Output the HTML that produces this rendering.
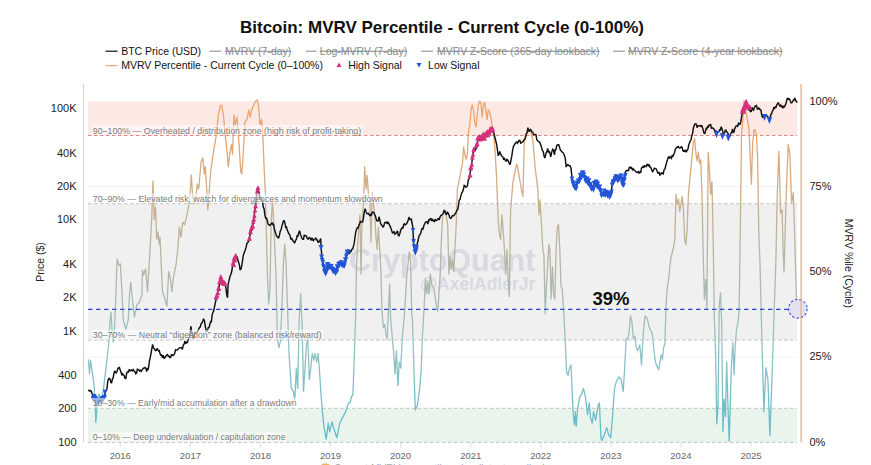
<!DOCTYPE html>
<html><head><meta charset="utf-8"><title>Bitcoin: MVRV Percentile</title>
<style>html,body{margin:0;padding:0;background:#fff;}body{width:871px;height:465px;overflow:hidden;position:relative;font-family:"Liberation Sans", sans-serif;}</style>
</head><body>
<svg width="871" height="465" viewBox="0 0 871 465" style="position:absolute;left:0;top:0">
<defs>
<linearGradient id="pg" gradientUnits="userSpaceOnUse" x1="0" y1="101.4" x2="0" y2="442.4">
<stop offset="0" stop-color="#eda46a"/>
<stop offset="0.12" stop-color="#e6a571"/>
<stop offset="0.30" stop-color="#c9b08e"/>
<stop offset="0.50" stop-color="#b2b6a8"/>
<stop offset="0.70" stop-color="#98c2c3"/>
<stop offset="1" stop-color="#5bbccc"/>
</linearGradient>
</defs>
<rect x="0" y="0" width="871" height="465" fill="#fff"/>
<rect x="88" y="101.4" width="709" height="34.1" fill="#fde9e4"/>
<rect x="88" y="203.7" width="709" height="136.4" fill="#f0f0f0"/>
<rect x="88" y="408.3" width="709" height="34.1" fill="#e9f4ec"/>

<line x1="120.3" y1="442.5" x2="120.3" y2="447.5" stroke="#d6d6d6" stroke-width="0.8"/>
<line x1="190.4" y1="442.5" x2="190.4" y2="447.5" stroke="#d6d6d6" stroke-width="0.8"/>
<line x1="260.5" y1="442.5" x2="260.5" y2="447.5" stroke="#d6d6d6" stroke-width="0.8"/>
<line x1="330.5" y1="442.5" x2="330.5" y2="447.5" stroke="#d6d6d6" stroke-width="0.8"/>
<line x1="400.6" y1="442.5" x2="400.6" y2="447.5" stroke="#d6d6d6" stroke-width="0.8"/>
<line x1="470.7" y1="442.5" x2="470.7" y2="447.5" stroke="#d6d6d6" stroke-width="0.8"/>
<line x1="540.8" y1="442.5" x2="540.8" y2="447.5" stroke="#d6d6d6" stroke-width="0.8"/>
<line x1="610.9" y1="442.5" x2="610.9" y2="447.5" stroke="#d6d6d6" stroke-width="0.8"/>
<line x1="680.9" y1="442.5" x2="680.9" y2="447.5" stroke="#d6d6d6" stroke-width="0.8"/>
<line x1="751.0" y1="442.5" x2="751.0" y2="447.5" stroke="#d6d6d6" stroke-width="0.8"/>
<line x1="88" y1="357.1" x2="797" y2="357.1" stroke="#ebebeb" stroke-width="0.6"/>
<line x1="88" y1="271.9" x2="797" y2="271.9" stroke="#ebebeb" stroke-width="0.6"/>
<line x1="88" y1="186.6" x2="797" y2="186.6" stroke="#ebebeb" stroke-width="0.6"/>
<line x1="88" y1="135.5" x2="797" y2="135.5" stroke="#dd8a8a" stroke-width="1" stroke-dasharray="3.5,2.5"/>
<line x1="88" y1="203.7" x2="797" y2="203.7" stroke="#c4c4c4" stroke-width="1" stroke-dasharray="3.5,2.5"/>
<line x1="88" y1="340.1" x2="797" y2="340.1" stroke="#c4c4c4" stroke-width="1" stroke-dasharray="3.5,2.5"/>
<line x1="88" y1="408.3" x2="797" y2="408.3" stroke="#c4c4c4" stroke-width="1" stroke-dasharray="3.5,2.5"/>
<line x1="88" y1="442.4" x2="797" y2="442.4" stroke="#c4c4c4" stroke-width="1" stroke-dasharray="3.5,2.5"/>
<text x="349" y="271" font-family='"Liberation Sans", sans-serif' font-size="30.5" font-weight="bold" fill="#d6d6df" fill-opacity="0.9">CryptoQuant</text>
<text x="420" y="290" font-family='"Liberation Sans", sans-serif' font-size="17.5" font-weight="bold" fill="#d6d6df" fill-opacity="0.9">@AxelAdlerJr</text>
<path d="M88.4,359.2 L89.5,373.9 L90.6,360.3 L92.9,376.1 L94.0,385.2 L95.2,405.5 L95.8,422.4 L96.7,412.3 L97.4,398.7 L99.0,394.2 L100.8,399.9 L103.1,392.0 L105.3,373.9 L107.6,353.6 L108.5,346.7 L109.7,324.5 L111.0,312.1 L112.2,334.4 L113.4,341.8 L114.7,324.5 L115.9,294.8 L117.1,259.0 L118.9,265.2 L120.4,264.0 L122.1,294.8 L123.3,319.6 L125.8,329.4 L128.3,319.6 L129.5,294.8 L130.7,282.5 L132.5,299.8 L134.4,317.1 L136.9,304.7 L139.4,302.2 L141.9,294.8 L142.4,270.1 L143.5,275.0 L145.6,268.9 L147.5,292.0 L149.8,254.0 L151.7,219.4 L153.0,181.1 L154.2,219.4 L155.5,207.1 L156.7,239.2 L157.9,231.8 L159.2,244.2 L160.0,237.1 L161.2,264.3 L162.5,291.5 L164.9,298.9 L166.9,306.3 L168.7,271.7 L170.4,279.1 L171.9,291.5 L173.6,276.6 L176.1,264.3 L177.8,249.4 L179.3,227.2 L181.0,237.1 L182.7,222.2 L184.7,224.7 L186.7,216.1 L188.4,207.4 L189.7,200.0 L191.3,175.0 L192.5,193.9 L193.7,203.8 L194.6,202.5 L196.2,193.9 L197.4,184.0 L198.7,188.9 L201.1,161.7 L202.9,158.0 L204.3,174.1 L205.3,166.7 L206.8,191.4 L207.8,210.0 L208.5,203.8 L209.8,181.5 L211.0,169.2 L213.5,151.9 L216.0,137.0 L218.4,114.8 L220.2,106.1 L221.6,104.9 L222.9,112.3 L223.9,119.7 L225.1,134.6 L226.6,146.9 L228.3,166.7 L230.0,151.9 L231.5,144.4 L232.5,154.3 L234.0,114.8 L235.2,124.7 L237.0,117.2 L238.2,132.1 L239.4,149.4 L240.7,171.6 L241.9,174.1 L243.2,154.3 L244.9,122.2 L246.9,119.7 L248.8,109.8 L250.1,117.2 L251.8,109.8 L253.8,104.9 L255.5,101.2 L257.2,99.9 L258.7,107.4 L260.0,124.7 L261.7,119.7 L262.9,137.0 L264.2,169.2 L265.4,193.9 L266.2,224.7 L267.4,274.2 L268.7,303.8 L270.0,290.0 L271.1,224.7 L272.4,200.0 L273.6,219.8 L276.1,279.1 L277.4,339.0 L278.9,347.7 L280.3,341.9 L281.8,310.0 L283.5,261.8 L284.7,244.5 L286.0,261.8 L287.6,310.0 L289.0,353.5 L291.3,388.4 L293.4,391.3 L294.8,400.0 L296.3,368.1 L297.7,388.4 L299.2,318.7 L300.7,293.9 L302.1,324.5 L303.5,391.3 L305.0,368.1 L306.4,344.8 L307.9,339.0 L309.3,379.7 L310.8,368.0 L312.2,353.5 L313.7,360.0 L315.2,353.5 L316.6,362.0 L318.1,353.5 L319.5,371.0 L321.0,394.2 L322.4,411.6 L323.9,426.1 L326.2,439.2 L328.2,423.2 L329.7,431.9 L332.0,421.8 L334.0,429.0 L336.9,437.7 L339.8,423.2 L342.7,417.4 L345.6,411.6 L348.5,402.9 L350.0,402.9 L351.4,397.1 L352.9,394.2 L354.4,353.5 L355.8,310.0 L356.4,268.0 L357.4,249.4 L358.7,229.7 L359.9,214.8 L361.1,274.2 L361.9,224.7 L363.6,200.0 L364.7,166.7 L366.0,188.9 L367.2,175.3 L368.4,193.9 L369.8,200.0 L371.0,242.0 L372.1,192.7 L374.7,214.8 L376.0,237.1 L377.2,249.4 L378.4,227.2 L380.9,269.2 L381.9,310.0 L383.4,327.4 L384.8,324.5 L386.3,336.1 L387.2,339.0 L388.3,315.0 L389.6,284.1 L390.6,318.7 L393.5,350.6 L395.0,373.9 L396.4,350.6 L397.9,385.5 L399.3,362.2 L400.8,368.1 L402.2,339.0 L404.4,315.0 L406.9,274.2 L409.3,251.9 L410.6,261.8 L411.8,315.0 L412.4,318.7 L413.9,368.1 L415.3,410.1 L417.3,405.8 L419.7,388.4 L421.1,371.0 L422.6,333.2 L424.0,310.0 L425.4,279.1 L426.6,293.9 L427.9,281.6 L429.1,293.9 L430.3,274.2 L431.6,284.1 L434.1,289.0 L436.5,306.3 L437.8,311.2 L440.2,274.2 L441.5,237.1 L442.7,214.8 L445.2,209.9 L447.7,224.7 L448.9,274.2 L450.0,256.9 L451.2,269.2 L452.5,259.3 L453.7,271.7 L454.9,249.4 L456.2,224.7 L457.4,188.9 L459.9,176.6 L462.4,164.2 L463.6,146.9 L464.8,154.3 L466.1,159.3 L467.3,154.3 L468.5,132.1 L469.8,124.7 L471.0,109.8 L472.2,104.9 L473.5,109.8 L474.7,122.2 L476.0,127.1 L477.2,114.8 L478.4,104.9 L479.7,101.2 L480.9,102.4 L482.1,117.2 L483.4,104.9 L484.6,102.4 L485.8,109.8 L487.1,119.7 L488.3,109.8 L489.6,112.3 L490.8,117.2 L492.0,124.7 L493.3,132.1 L495.0,149.4 L496.5,176.6 L498.2,219.8 L499.4,234.6 L500.7,239.6 L501.9,214.8 L503.2,229.7 L504.4,249.4 L505.6,274.2 L506.9,249.4 L508.1,279.1 L509.3,296.4 L510.6,210.0 L513.0,181.5 L515.5,169.2 L516.7,164.2 L518.0,169.2 L519.2,176.6 L520.5,184.0 L521.7,191.4 L522.9,196.4 L524.2,144.4 L525.4,134.6 L527.9,132.1 L530.3,129.6 L532.8,139.5 L535.3,169.2 L537.8,188.9 L539.0,214.8 L540.0,200.0 L541.5,224.7 L543.0,251.9 L543.9,254.4 L545.2,313.7 L546.4,286.5 L548.9,244.5 L549.9,249.4 L551.1,298.9 L552.4,266.7 L553.6,293.9 L554.8,298.9 L556.1,249.4 L557.3,227.2 L558.5,224.7 L559.8,249.4 L561.0,286.5 L562.2,289.0 L563.5,308.8 L565.2,339.0 L566.6,372.4 L568.1,375.3 L569.5,368.1 L571.0,365.2 L571.8,382.6 L573.0,411.6 L574.4,424.7 L575.3,411.6 L576.2,426.1 L577.6,408.7 L579.7,397.1 L581.7,394.2 L583.4,388.4 L585.5,397.1 L587.5,414.5 L589.3,402.9 L590.4,417.4 L592.2,423.2 L593.6,411.6 L595.6,420.3 L598.0,405.8 L599.4,402.9 L600.9,437.7 L602.0,440.6 L604.3,434.8 L606.7,427.6 L608.7,434.8 L610.7,437.7 L612.5,417.4 L614.5,388.4 L616.5,381.1 L618.9,376.8 L621.2,379.7 L623.2,391.3 L624.7,368.1 L626.1,339.0 L627.6,339.0 L629.0,333.2 L630.5,315.8 L631.9,321.6 L633.4,339.0 L634.8,336.1 L636.3,347.7 L637.7,350.6 L639.8,344.8 L641.5,365.2 L643.5,330.3 L645.0,315.8 L647.3,318.7 L649.3,327.4 L652.2,333.2 L655.0,359.7 L656.2,364.6 L658.7,369.6 L659.9,362.1 L661.2,354.7 L662.4,359.7 L663.7,347.3 L664.9,343.6 L666.1,304.2 L667.4,286.9 L668.6,279.4 L669.8,267.1 L671.1,257.2 L672.3,252.2 L673.5,247.3 L674.8,239.9 L676.0,194.2 L677.2,204.1 L678.5,199.1 L679.7,211.5 L681.0,204.1 L682.2,196.6 L683.4,209.0 L684.7,239.9 L685.9,244.8 L687.1,230.0 L688.4,194.2 L689.6,181.8 L690.8,169.4 L692.1,157.1 L693.3,142.2 L694.6,138.5 L695.8,152.1 L697.0,160.8 L698.3,152.1 L699.5,163.3 L700.7,159.6 L702.0,194.2 L703.2,254.7 L704.4,299.2 L705.7,279.4 L706.9,309.1 L708.2,152.1 L709.4,169.4 L710.6,194.2 L711.9,181.8 L713.1,235.0 L714.3,316.5 L715.6,354.7 L716.8,423.9 L718.0,406.6 L719.3,304.2 L720.5,293.0 L721.7,323.9 L723.0,431.4 L724.2,399.2 L725.5,416.5 L726.7,362.1 L727.9,404.2 L729.2,441.2 L730.4,399.2 L731.6,362.1 L732.9,342.4 L734.1,374.5 L735.3,345.0 L736.6,328.9 L737.8,323.9 L739.1,311.6 L740.3,230.0 L741.5,134.8 L742.8,120.0 L744.0,100.6 L746.9,117.6 L748.9,127.4 L750.2,157.1 L751.4,184.3 L752.6,144.7 L753.9,130.0 L755.1,129.9 L756.4,134.8 L757.6,157.1 L758.8,233.8 L759.9,260.0 L761.9,339.7 L763.9,411.5 L765.9,367.7 L767.9,379.6 L769.9,435.4 L771.9,379.6 L773.9,319.8 L775.9,260.0 L777.2,196.0 L778.9,151.3 L780.6,213.2 L782.0,209.8 L783.3,254.5 L784.0,272.0 L786.4,189.1 L788.2,144.4 L789.9,154.7 L791.6,202.9 L793.3,192.6 L795.0,247.6 L796.6,303.9" fill="none" stroke="url(#pg)" stroke-width="1.3" stroke-linejoin="round"/>
<path d="M88.1,390.3 L89.0,390.5 L89.8,391.1 L90.7,390.5 L91.5,391.9 L92.3,394.2 L93.2,397.0 L94.0,396.5 L94.8,396.8 L95.7,399.6 L96.5,400.1 L97.3,401.5 L98.2,401.3 L99.0,399.5 L99.8,400.5 L100.5,400.4 L101.3,399.7 L102.0,399.1 L102.8,397.2 L103.5,395.5 L104.3,396.9 L105.2,392.6 L106.0,391.2 L106.9,389.1 L107.8,381.1 L108.7,378.6 L109.4,378.3 L110.1,379.2 L110.8,382.5 L111.6,382.8 L112.3,379.3 L113.1,378.0 L113.9,373.7 L114.7,371.0 L115.4,371.9 L116.2,373.2 L117.0,371.5 L117.7,369.1 L118.5,367.8 L119.4,367.5 L120.2,369.9 L121.1,372.4 L121.9,375.3 L122.7,373.9 L123.4,374.8 L124.2,375.7 L125.0,378.4 L125.8,378.5 L126.7,373.1 L127.5,371.8 L128.4,372.1 L129.2,369.4 L130.1,370.9 L130.9,370.1 L131.7,369.9 L132.5,371.3 L133.3,369.7 L134.2,370.9 L135.0,371.7 L135.8,373.7 L136.6,373.0 L137.4,369.2 L138.1,369.6 L138.9,370.1 L139.7,371.0 L140.4,369.8 L141.2,371.4 L142.0,370.2 L142.8,368.9 L143.5,368.2 L144.3,368.0 L145.1,367.4 L145.9,368.3 L146.6,371.6 L147.4,368.7 L148.2,369.3 L148.8,365.8 L149.5,360.7 L150.3,357.2 L151.1,353.0 L151.8,349.0 L152.6,344.5 L153.6,348.1 L154.6,349.1 L155.4,350.6 L156.2,350.3 L156.9,348.9 L157.7,349.1 L158.5,350.9 L159.3,350.6 L160.1,353.9 L160.8,355.2 L161.6,354.9 L162.4,357.8 L163.2,355.2 L164.1,358.3 L164.9,357.9 L165.8,356.2 L166.7,355.0 L167.5,354.6 L168.3,356.4 L169.1,356.1 L169.9,357.5 L170.8,357.2 L171.6,354.2 L172.4,355.3 L173.2,355.4 L174.0,354.8 L174.8,353.1 L175.6,349.8 L176.3,350.1 L177.1,350.1 L177.9,349.4 L178.7,348.6 L179.4,347.8 L180.2,347.6 L181.0,347.5 L181.8,348.7 L182.5,348.9 L183.3,344.9 L184.1,344.4 L184.8,341.1 L185.6,343.7 L186.4,341.9 L187.2,343.1 L187.9,340.9 L188.7,338.4 L189.5,337.2 L190.2,333.6 L190.8,326.2 L191.6,331.7 L192.5,333.6 L193.3,338.7 L194.2,335.9 L195.0,332.9 L195.9,332.7 L196.8,332.5 L197.6,331.4 L198.5,329.6 L199.3,327.7 L200.2,327.0 L201.1,323.7 L201.9,323.1 L202.8,320.9 L203.6,318.7 L204.5,321.1 L205.3,326.3 L206.2,331.1 L206.9,331.0 L207.7,329.6 L208.4,327.4 L209.2,327.1 L209.9,324.2 L210.7,321.6 L211.4,321.8 L212.2,314.6 L213.0,312.2 L213.8,310.7 L214.6,306.1 L215.3,303.1 L216.0,299.8 L216.7,294.7 L217.5,293.7 L218.3,289.1 L219.0,287.7 L219.8,281.7 L220.6,278.8 L221.3,282.7 L222.1,282.1 L222.8,282.2 L223.6,285.2 L224.3,282.4 L225.1,284.4 L225.9,287.6 L226.7,294.6 L227.5,297.8 L228.1,284.7 L229.0,280.9 L229.9,276.8 L230.8,274.5 L231.7,271.5 L232.5,266.4 L233.4,264.2 L234.2,260.1 L234.9,259.4 L235.7,259.0 L236.4,257.9 L237.2,256.4 L237.9,260.5 L238.6,262.2 L239.4,264.8 L240.1,269.6 L240.8,269.4 L241.6,266.6 L242.4,261.7 L243.2,255.8 L243.9,253.6 L244.6,251.9 L245.4,249.4 L246.1,247.4 L246.8,243.8 L247.6,242.4 L248.3,242.1 L249.1,239.1 L249.8,236.1 L250.6,232.0 L251.4,231.0 L252.2,227.6 L252.9,224.4 L253.7,221.5 L254.4,214.1 L255.2,207.3 L256.0,201.5 L256.9,192.7 L257.7,187.5 L258.4,190.1 L259.1,193.0 L259.8,197.6 L260.7,198.8 L261.6,199.6 L262.5,200.9 L263.3,207.3 L264.1,208.7 L264.9,215.4 L265.7,218.3 L266.6,218.3 L267.4,221.0 L268.2,224.3 L269.1,224.9 L269.9,225.5 L270.6,224.2 L271.4,224.0 L272.1,222.5 L272.9,224.5 L273.6,224.3 L274.4,229.0 L275.2,231.7 L276.1,234.7 L276.9,236.5 L277.7,237.1 L278.5,238.4 L279.3,235.8 L280.2,231.3 L281.0,229.8 L281.8,226.6 L282.7,223.4 L283.5,220.7 L284.2,220.7 L285.0,223.6 L285.7,227.5 L286.5,227.1 L287.2,229.9 L287.9,231.5 L288.7,233.5 L289.4,234.2 L290.2,236.2 L290.9,239.5 L291.6,238.0 L292.4,239.5 L293.1,241.3 L293.9,241.5 L294.6,243.2 L295.4,240.7 L296.3,239.4 L297.1,235.8 L297.9,236.0 L298.8,232.6 L299.6,230.7 L300.4,234.2 L301.2,236.6 L302.0,238.4 L302.7,239.2 L303.5,239.3 L304.2,234.9 L305.0,235.8 L305.7,235.5 L306.5,236.1 L307.4,238.7 L308.2,239.1 L308.9,237.8 L309.7,237.6 L310.4,238.9 L311.2,240.4 L311.9,237.7 L312.7,240.0 L313.5,240.6 L314.3,238.9 L315.1,238.8 L315.9,238.2 L316.6,240.0 L317.4,240.0 L318.2,242.9 L319.0,241.6 L319.8,241.0 L320.6,238.4 L321.8,256.8 L322.5,259.7 L323.3,263.8 L324.0,267.4 L324.8,271.5 L325.5,271.4 L326.3,269.0 L327.2,265.9 L328.0,265.4 L328.8,265.6 L329.6,267.1 L330.4,267.0 L331.3,268.2 L332.1,269.4 L332.9,269.8 L333.6,270.1 L334.4,269.1 L335.1,271.0 L335.9,272.4 L336.6,270.7 L337.4,267.3 L338.3,265.2 L339.1,264.0 L339.9,263.7 L340.7,261.3 L341.4,260.9 L342.2,263.4 L343.0,262.9 L343.8,263.0 L344.5,263.3 L345.3,263.0 L346.1,255.8 L347.0,254.1 L347.8,252.4 L348.6,252.5 L349.4,253.8 L350.2,251.2 L351.1,251.4 L351.9,249.3 L352.7,248.9 L353.4,246.4 L354.2,243.4 L354.9,238.0 L355.7,232.4 L356.4,230.0 L357.2,227.8 L358.1,228.0 L358.9,225.1 L359.6,224.1 L360.4,221.4 L361.1,221.6 L361.9,221.9 L362.6,222.0 L363.4,218.3 L364.3,211.9 L365.1,208.7 L365.9,211.3 L366.8,213.5 L367.6,213.8 L368.4,213.5 L369.1,214.5 L369.9,215.6 L370.6,214.7 L371.3,215.5 L372.2,212.2 L373.2,212.2 L373.9,212.7 L374.6,214.6 L375.4,215.7 L376.1,218.9 L376.8,220.6 L377.6,220.5 L378.3,221.1 L379.0,216.8 L379.8,219.6 L380.6,223.6 L381.3,224.8 L382.1,225.6 L382.9,227.3 L383.7,226.1 L384.6,222.8 L385.4,222.5 L386.2,222.2 L387.0,223.8 L387.9,222.3 L388.7,223.2 L389.5,225.2 L390.2,226.4 L391.0,228.6 L391.7,230.5 L392.5,232.9 L393.3,232.8 L394.2,231.4 L395.0,234.2 L395.8,233.6 L396.6,232.4 L397.5,230.8 L398.3,235.4 L399.1,235.8 L399.9,233.4 L400.6,230.6 L401.4,228.7 L402.2,227.7 L403.0,228.0 L403.7,224.4 L404.5,223.8 L405.2,224.9 L406.0,224.2 L406.7,223.5 L407.5,221.9 L408.2,220.0 L409.0,217.1 L409.8,219.5 L410.5,219.7 L411.3,218.6 L412.0,223.0 L412.8,226.5 L413.8,247.1 L414.8,248.9 L415.7,251.6 L416.5,248.7 L417.3,243.3 L418.0,241.3 L418.8,236.8 L419.6,234.9 L420.5,233.9 L421.3,230.6 L422.1,228.5 L423.0,229.0 L423.9,225.5 L424.7,223.7 L425.5,222.0 L426.3,221.8 L427.1,221.9 L427.9,224.0 L428.7,220.0 L429.5,220.3 L430.3,218.6 L431.1,218.7 L431.9,221.1 L432.8,219.7 L433.6,221.0 L434.4,221.5 L435.2,219.2 L436.0,220.6 L436.8,220.3 L437.6,219.4 L438.4,218.2 L439.2,220.0 L440.0,217.0 L440.8,215.5 L441.6,215.4 L442.4,214.4 L443.2,213.5 L444.0,210.6 L444.8,211.0 L445.6,213.7 L446.5,214.4 L447.3,212.3 L448.1,213.0 L448.9,214.7 L449.7,217.5 L450.5,218.4 L451.3,217.9 L452.1,215.9 L452.9,215.8 L453.7,215.7 L454.5,214.7 L455.3,213.5 L456.1,212.1 L456.9,210.1 L457.7,209.5 L458.5,205.5 L459.3,200.0 L460.1,199.3 L461.0,195.1 L461.8,192.9 L462.6,191.7 L463.4,189.3 L464.2,185.3 L465.0,185.7 L465.8,187.2 L466.6,186.9 L467.4,186.0 L468.2,180.2 L469.0,178.8 L469.8,176.3 L470.7,169.1 L471.5,165.1 L472.4,158.0 L473.0,152.9 L473.8,151.8 L474.6,149.2 L475.5,149.7 L476.3,148.2 L477.1,144.3 L477.9,140.1 L478.7,140.1 L479.5,137.9 L480.3,138.2 L481.1,136.9 L481.9,135.0 L482.7,136.6 L483.6,135.6 L484.4,137.6 L485.2,135.3 L486.0,136.2 L486.8,134.0 L487.6,134.8 L488.4,131.8 L489.2,132.7 L490.0,131.3 L490.8,129.4 L491.6,130.1 L492.4,130.7 L493.2,131.0 L494.0,133.7 L494.8,137.0 L495.6,140.2 L496.5,143.9 L497.3,148.6 L498.2,155.8 L499.0,154.2 L499.8,151.4 L500.5,153.9 L501.3,155.1 L502.1,156.5 L502.9,157.0 L503.7,159.7 L504.5,158.6 L505.3,160.1 L506.1,161.5 L506.9,159.3 L507.7,159.9 L508.5,161.5 L509.4,163.8 L510.2,164.6 L511.0,159.8 L511.8,156.2 L512.6,150.4 L513.4,146.6 L514.2,145.1 L515.0,143.8 L515.8,142.9 L516.6,141.6 L517.4,143.1 L518.2,142.0 L519.0,140.5 L519.8,140.4 L520.7,143.1 L521.5,142.6 L522.3,142.1 L523.1,141.5 L523.9,139.7 L524.7,139.4 L525.5,137.5 L526.3,133.7 L527.1,132.6 L527.9,127.7 L528.7,130.9 L529.5,131.2 L530.3,129.3 L531.1,129.9 L531.9,131.9 L532.7,132.1 L533.5,134.6 L534.3,134.6 L535.2,134.4 L536.0,134.7 L536.8,139.5 L537.6,140.8 L538.5,141.5 L539.3,141.8 L540.2,143.6 L541.0,145.5 L541.9,148.7 L542.6,150.9 L543.3,151.9 L544.1,156.0 L544.8,157.9 L545.5,155.9 L546.2,152.6 L547.0,151.3 L547.7,148.3 L548.5,152.6 L549.2,151.0 L550.0,153.5 L550.7,156.9 L551.7,152.4 L552.6,149.3 L553.5,150.2 L554.5,154.8 L555.2,149.5 L556.0,149.5 L556.7,145.4 L557.4,145.3 L558.1,144.6 L558.8,144.9 L559.6,147.4 L560.3,149.8 L561.0,150.7 L561.8,151.9 L562.5,152.1 L563.2,152.8 L564.2,155.0 L565.2,157.8 L566.1,166.4 L566.8,165.9 L567.5,164.7 L568.3,164.9 L569.0,165.8 L570.0,165.7 L571.0,168.1 L572.0,177.3 L572.9,182.7 L573.6,184.8 L574.3,186.7 L575.1,186.8 L575.8,187.7 L576.6,184.7 L577.4,182.6 L578.2,180.1 L579.1,179.2 L579.9,176.4 L580.7,177.0 L581.5,176.0 L582.2,173.2 L583.0,174.2 L583.7,174.5 L584.5,177.0 L585.2,177.2 L586.0,181.3 L586.7,179.4 L587.4,182.2 L588.2,182.9 L589.1,181.1 L589.9,182.6 L590.8,183.9 L591.6,187.2 L592.5,186.3 L593.3,187.8 L594.1,185.1 L594.9,183.6 L595.7,183.6 L596.5,182.9 L597.3,185.4 L598.1,183.6 L599.0,185.7 L600.0,187.8 L600.7,189.7 L601.5,193.6 L602.2,193.7 L602.9,194.5 L603.7,194.0 L604.5,192.4 L605.2,193.1 L606.0,191.2 L606.8,191.7 L607.6,194.3 L608.4,195.1 L609.1,193.2 L609.9,195.8 L610.7,193.6 L611.4,191.2 L612.2,184.1 L612.9,183.7 L613.6,179.0 L614.4,178.3 L615.2,177.8 L615.9,177.8 L616.7,178.8 L617.5,178.0 L618.3,178.4 L619.0,179.1 L619.8,175.7 L620.5,175.4 L621.3,176.8 L622.3,180.0 L623.3,185.8 L624.2,178.6 L625.2,172.8 L626.2,170.6 L627.0,170.4 L627.7,170.5 L628.5,170.7 L629.2,167.6 L630.0,167.0 L630.8,168.3 L631.6,167.7 L632.5,169.9 L633.3,168.9 L634.1,170.0 L634.9,170.5 L635.7,171.6 L636.6,172.4 L637.4,172.5 L638.2,171.7 L639.0,173.4 L639.9,172.0 L640.7,172.8 L641.5,167.9 L642.3,167.3 L643.0,166.5 L643.8,167.8 L644.6,165.3 L645.4,166.5 L646.1,166.7 L646.9,164.7 L647.6,163.9 L648.4,166.3 L649.2,164.5 L650.1,167.3 L650.9,167.5 L651.8,170.1 L652.6,171.6 L653.5,170.4 L654.3,168.3 L655.1,168.4 L655.9,168.6 L656.7,170.0 L657.5,172.3 L658.3,173.6 L659.1,172.0 L659.9,175.1 L660.7,174.6 L661.5,172.4 L662.4,173.5 L663.2,173.9 L664.0,170.1 L664.9,169.0 L665.9,165.3 L666.8,161.6 L667.6,159.5 L668.4,156.8 L669.2,157.9 L670.0,156.8 L670.8,157.8 L671.5,158.4 L672.2,155.2 L673.0,156.5 L673.8,154.3 L674.5,152.8 L675.2,149.6 L676.0,148.4 L676.8,147.2 L677.5,147.2 L678.2,146.0 L679.0,147.8 L679.8,147.9 L680.5,147.6 L681.2,146.7 L682.0,147.3 L682.8,150.2 L683.5,151.7 L684.2,150.0 L685.0,151.5 L685.8,150.5 L686.5,151.5 L687.2,150.1 L688.0,149.0 L688.8,144.8 L689.5,143.0 L690.3,141.0 L691.1,139.5 L691.8,135.7 L692.6,133.5 L693.3,128.5 L694.1,125.7 L694.8,123.9 L695.5,123.9 L696.3,124.1 L697.0,127.6 L697.8,125.8 L698.6,125.7 L699.3,125.9 L700.1,125.6 L700.9,126.4 L701.6,125.3 L702.4,127.2 L703.1,129.6 L703.9,133.0 L704.6,133.9 L705.4,131.5 L706.1,128.5 L706.9,128.8 L707.6,126.4 L708.4,127.0 L709.1,125.1 L709.9,125.2 L710.6,124.2 L711.4,128.5 L712.1,127.7 L712.9,128.3 L713.6,128.5 L714.4,129.8 L715.1,132.6 L715.9,130.5 L716.6,133.8 L717.4,131.7 L718.1,131.7 L718.9,131.6 L719.7,129.9 L720.4,130.0 L721.2,126.8 L721.9,128.5 L722.7,131.4 L723.4,133.8 L724.1,134.5 L724.9,131.5 L725.6,129.7 L726.4,131.2 L727.1,132.2 L727.9,133.1 L728.6,136.4 L729.4,137.2 L730.2,134.9 L730.9,133.1 L731.7,132.5 L732.5,129.0 L733.2,132.7 L734.0,132.0 L734.7,128.8 L735.5,127.1 L736.2,125.8 L737.0,125.7 L737.7,126.3 L738.5,123.2 L739.2,123.8 L740.0,124.2 L740.7,122.2 L741.5,117.4 L742.2,113.3 L743.0,109.7 L743.7,110.8 L744.5,108.3 L745.2,104.4 L746.0,103.0 L746.7,104.7 L747.5,104.7 L748.2,108.3 L749.0,110.0 L749.7,109.7 L750.5,111.6 L751.2,111.4 L752.0,107.3 L752.8,109.7 L753.5,110.3 L754.3,107.7 L755.0,106.2 L755.8,106.1 L756.5,105.5 L757.3,109.0 L758.0,109.0 L758.8,108.1 L759.5,109.3 L760.3,109.5 L761.0,110.4 L761.8,115.5 L762.5,117.0 L763.3,115.9 L764.0,115.9 L764.8,116.4 L765.5,114.6 L766.3,115.7 L767.0,115.8 L767.8,117.1 L768.5,117.2 L769.3,118.9 L770.0,119.1 L770.8,114.4 L771.5,114.0 L772.3,111.4 L773.0,110.4 L773.8,107.2 L774.5,108.9 L775.3,106.7 L776.1,107.1 L776.8,104.9 L777.6,103.7 L778.3,102.6 L779.1,104.8 L779.8,105.9 L780.6,105.1 L781.3,107.0 L782.1,105.7 L782.8,108.2 L783.6,106.0 L784.4,107.3 L785.1,105.2 L785.9,104.0 L786.6,100.6 L787.4,98.0 L788.1,99.9 L788.9,98.6 L789.6,99.1 L790.4,101.1 L791.1,102.9 L791.9,102.6 L792.6,101.6 L793.4,100.0 L794.1,100.0 L794.9,97.9 L795.6,100.7 L796.4,101.2 L797.1,102.8" fill="none" stroke="#111" stroke-width="1.45" stroke-linejoin="miter" stroke-miterlimit="2"/>
<path d="M216.0,294.9 L218.5,299.4 L213.5,299.4 Z" fill="#d4307e"/>
<path d="M216.6,293.4 L218.7,298.0 L214.5,298.0 Z" fill="#d4307e"/>
<path d="M217.2,292.4 L219.4,298.1 L215.0,298.1 Z" fill="#d4307e"/>
<path d="M217.8,290.4 L220.4,295.1 L215.2,295.1 Z" fill="#d4307e"/>
<path d="M218.4,284.7 L220.5,290.4 L216.3,290.4 Z" fill="#d4307e"/>
<path d="M219.0,286.0 L221.4,291.1 L216.6,291.1 Z" fill="#d4307e"/>
<path d="M219.6,279.1 L222.2,284.2 L217.0,284.2 Z" fill="#d4307e"/>
<path d="M220.2,277.7 L222.3,282.4 L218.1,282.4 Z" fill="#d4307e"/>
<path d="M220.8,274.1 L223.3,279.3 L218.3,279.3 Z" fill="#d4307e"/>
<path d="M221.4,277.5 L224.0,282.4 L218.8,282.4 Z" fill="#d4307e"/>
<path d="M222.0,278.5 L224.1,283.3 L219.9,283.3 Z" fill="#d4307e"/>
<path d="M222.6,280.6 L224.8,285.3 L220.4,285.3 Z" fill="#d4307e"/>
<path d="M223.2,279.8 L225.4,285.4 L221.0,285.4 Z" fill="#d4307e"/>
<path d="M223.8,279.4 L226.5,284.0 L221.1,284.0 Z" fill="#d4307e"/>
<path d="M224.4,281.3 L226.9,286.0 L221.9,286.0 Z" fill="#d4307e"/>
<path d="M225.0,280.7 L227.2,285.5 L222.8,285.5 Z" fill="#d4307e"/>
<path d="M233.0,259.8 L235.3,265.5 L230.7,265.5 Z" fill="#d4307e"/>
<path d="M233.6,262.4 L236.2,267.0 L231.0,267.0 Z" fill="#d4307e"/>
<path d="M234.2,255.9 L236.8,260.5 L231.6,260.5 Z" fill="#d4307e"/>
<path d="M234.8,256.8 L237.0,262.5 L232.6,262.5 Z" fill="#d4307e"/>
<path d="M235.4,253.3 L238.0,258.3 L232.8,258.3 Z" fill="#d4307e"/>
<path d="M236.0,253.0 L238.0,258.5 L234.0,258.5 Z" fill="#d4307e"/>
<path d="M249.0,235.9 L251.1,241.0 L246.9,241.0 Z" fill="#d4307e"/>
<path d="M249.6,235.4 L251.8,240.6 L247.4,240.6 Z" fill="#d4307e"/>
<path d="M250.2,228.6 L252.3,234.0 L248.1,234.0 Z" fill="#d4307e"/>
<path d="M250.8,229.7 L252.9,234.2 L248.7,234.2 Z" fill="#d4307e"/>
<path d="M251.4,225.5 L253.8,230.6 L249.0,230.6 Z" fill="#d4307e"/>
<path d="M252.0,223.7 L254.1,229.0 L249.9,229.0 Z" fill="#d4307e"/>
<path d="M252.6,223.4 L255.2,228.6 L250.0,228.6 Z" fill="#d4307e"/>
<path d="M253.2,218.3 L255.2,223.7 L251.2,223.7 Z" fill="#d4307e"/>
<path d="M253.8,216.9 L256.3,221.5 L251.3,221.5 Z" fill="#d4307e"/>
<path d="M254.4,212.4 L256.6,218.0 L252.2,218.0 Z" fill="#d4307e"/>
<path d="M255.0,207.8 L257.3,212.3 L252.7,212.3 Z" fill="#d4307e"/>
<path d="M255.6,202.7 L257.9,208.3 L253.3,208.3 Z" fill="#d4307e"/>
<path d="M256.2,194.8 L258.3,200.3 L254.1,200.3 Z" fill="#d4307e"/>
<path d="M256.8,189.4 L258.9,194.3 L254.7,194.3 Z" fill="#d4307e"/>
<path d="M257.4,186.4 L259.4,191.5 L255.4,191.5 Z" fill="#d4307e"/>
<path d="M258.0,185.2 L260.4,189.8 L255.6,189.8 Z" fill="#d4307e"/>
<path d="M470.0,171.9 L472.6,177.5 L467.4,177.5 Z" fill="#d4307e"/>
<path d="M470.6,165.3 L473.1,170.3 L468.1,170.3 Z" fill="#d4307e"/>
<path d="M471.2,164.1 L473.2,169.7 L469.2,169.7 Z" fill="#d4307e"/>
<path d="M471.8,161.7 L474.1,166.8 L469.5,166.8 Z" fill="#d4307e"/>
<path d="M472.4,155.1 L474.8,159.6 L470.0,159.6 Z" fill="#d4307e"/>
<path d="M473.0,152.0 L475.2,156.7 L470.8,156.7 Z" fill="#d4307e"/>
<path d="M473.6,146.3 L475.8,151.9 L471.4,151.9 Z" fill="#d4307e"/>
<path d="M476.0,142.7 L478.1,148.1 L473.9,148.1 Z" fill="#d4307e"/>
<path d="M476.6,141.6 L478.6,146.9 L474.6,146.9 Z" fill="#d4307e"/>
<path d="M477.2,140.5 L479.6,145.9 L474.8,145.9 Z" fill="#d4307e"/>
<path d="M477.8,135.0 L480.4,140.4 L475.2,140.4 Z" fill="#d4307e"/>
<path d="M478.4,134.4 L480.5,139.5 L476.3,139.5 Z" fill="#d4307e"/>
<path d="M479.0,136.1 L481.2,140.8 L476.8,140.8 Z" fill="#d4307e"/>
<path d="M479.6,133.9 L481.7,139.2 L477.5,139.2 Z" fill="#d4307e"/>
<path d="M480.2,136.4 L482.3,141.6 L478.1,141.6 Z" fill="#d4307e"/>
<path d="M480.8,134.9 L482.9,140.4 L478.7,140.4 Z" fill="#d4307e"/>
<path d="M481.4,135.0 L483.7,140.0 L479.1,140.0 Z" fill="#d4307e"/>
<path d="M482.0,133.4 L484.4,138.4 L479.6,138.4 Z" fill="#d4307e"/>
<path d="M482.6,135.2 L485.1,140.1 L480.1,140.1 Z" fill="#d4307e"/>
<path d="M483.2,131.3 L485.4,136.3 L481.0,136.3 Z" fill="#d4307e"/>
<path d="M483.8,134.8 L486.4,140.4 L481.2,140.4 Z" fill="#d4307e"/>
<path d="M484.4,135.9 L487.0,140.5 L481.8,140.5 Z" fill="#d4307e"/>
<path d="M485.0,132.0 L487.7,137.7 L482.3,137.7 Z" fill="#d4307e"/>
<path d="M485.6,130.9 L487.9,136.2 L483.3,136.2 Z" fill="#d4307e"/>
<path d="M486.2,131.8 L488.6,136.4 L483.8,136.4 Z" fill="#d4307e"/>
<path d="M486.8,130.6 L489.2,135.1 L484.4,135.1 Z" fill="#d4307e"/>
<path d="M487.4,129.1 L490.1,134.6 L484.7,134.6 Z" fill="#d4307e"/>
<path d="M488.0,131.7 L490.4,137.3 L485.6,137.3 Z" fill="#d4307e"/>
<path d="M488.6,130.8 L491.2,135.3 L486.0,135.3 Z" fill="#d4307e"/>
<path d="M489.2,129.7 L491.4,135.1 L487.0,135.1 Z" fill="#d4307e"/>
<path d="M489.8,126.7 L492.2,132.3 L487.4,132.3 Z" fill="#d4307e"/>
<path d="M490.4,127.4 L492.6,132.6 L488.2,132.6 Z" fill="#d4307e"/>
<path d="M491.0,125.9 L493.7,130.7 L488.3,130.7 Z" fill="#d4307e"/>
<path d="M491.6,126.0 L494.1,130.6 L489.1,130.6 Z" fill="#d4307e"/>
<path d="M492.2,127.5 L494.9,132.7 L489.5,132.7 Z" fill="#d4307e"/>
<path d="M492.8,126.2 L495.1,131.3 L490.5,131.3 Z" fill="#d4307e"/>
<path d="M742.0,109.5 L744.1,114.1 L739.9,114.1 Z" fill="#d4307e"/>
<path d="M742.6,107.0 L744.9,111.9 L740.3,111.9 Z" fill="#d4307e"/>
<path d="M743.2,105.3 L745.3,110.4 L741.1,110.4 Z" fill="#d4307e"/>
<path d="M743.8,108.6 L746.2,113.8 L741.4,113.8 Z" fill="#d4307e"/>
<path d="M744.4,105.6 L746.5,111.0 L742.3,111.0 Z" fill="#d4307e"/>
<path d="M745.0,101.8 L747.4,107.0 L742.6,107.0 Z" fill="#d4307e"/>
<path d="M745.6,100.3 L747.8,105.1 L743.4,105.1 Z" fill="#d4307e"/>
<path d="M746.2,98.7 L748.6,103.7 L743.8,103.7 Z" fill="#d4307e"/>
<path d="M746.8,101.7 L748.8,106.7 L744.8,106.7 Z" fill="#d4307e"/>
<path d="M747.4,102.9 L749.6,108.1 L745.2,108.1 Z" fill="#d4307e"/>
<path d="M748.0,103.2 L750.2,109.0 L745.8,109.0 Z" fill="#d4307e"/>
<path d="M748.6,104.9 L751.1,109.6 L746.1,109.6 Z" fill="#d4307e"/>
<path d="M749.2,104.3 L751.8,109.3 L746.6,109.3 Z" fill="#d4307e"/>
<path d="M749.8,104.3 L752.1,109.4 L747.5,109.4 Z" fill="#d4307e"/>
<path d="M90.9,396.1 L95.1,396.1 L93.0,400.9 Z" fill="#2355d8"/>
<path d="M91.1,397.6 L96.1,397.6 L93.6,402.3 Z" fill="#2355d8"/>
<path d="M92.0,394.1 L96.4,394.1 L94.2,399.4 Z" fill="#2355d8"/>
<path d="M92.2,395.6 L97.4,395.6 L94.8,401.2 Z" fill="#2355d8"/>
<path d="M92.9,397.0 L97.9,397.0 L95.4,402.5 Z" fill="#2355d8"/>
<path d="M93.7,399.3 L98.3,399.3 L96.0,404.8 Z" fill="#2355d8"/>
<path d="M94.0,399.9 L99.2,399.9 L96.6,404.5 Z" fill="#2355d8"/>
<path d="M95.2,401.4 L99.2,401.4 L97.2,406.9 Z" fill="#2355d8"/>
<path d="M95.5,400.0 L100.1,400.0 L97.8,405.7 Z" fill="#2355d8"/>
<path d="M96.1,399.4 L100.7,399.4 L98.4,404.9 Z" fill="#2355d8"/>
<path d="M96.6,399.8 L101.4,399.8 L99.0,404.8 Z" fill="#2355d8"/>
<path d="M97.3,398.3 L101.9,398.3 L99.6,403.7 Z" fill="#2355d8"/>
<path d="M97.9,397.8 L102.5,397.8 L100.2,402.9 Z" fill="#2355d8"/>
<path d="M98.6,397.8 L103.0,397.8 L100.8,403.3 Z" fill="#2355d8"/>
<path d="M99.1,399.8 L103.7,399.8 L101.4,404.8 Z" fill="#2355d8"/>
<path d="M99.8,396.1 L104.2,396.1 L102.0,400.7 Z" fill="#2355d8"/>
<path d="M100.2,396.6 L105.0,396.6 L102.6,401.2 Z" fill="#2355d8"/>
<path d="M101.0,396.6 L105.4,396.6 L103.2,402.2 Z" fill="#2355d8"/>
<path d="M101.1,396.2 L106.5,396.2 L103.8,400.9 Z" fill="#2355d8"/>
<path d="M101.8,394.7 L107.0,394.7 L104.4,399.2 Z" fill="#2355d8"/>
<path d="M102.6,389.5 L107.4,389.5 L105.0,394.6 Z" fill="#2355d8"/>
<path d="M318.5,245.0 L323.5,245.0 L321.0,250.2 Z" fill="#2355d8"/>
<path d="M319.2,254.6 L324.0,254.6 L321.6,259.8 Z" fill="#2355d8"/>
<path d="M319.9,257.7 L324.5,257.7 L322.2,262.7 Z" fill="#2355d8"/>
<path d="M320.6,259.7 L325.0,259.7 L322.8,265.4 Z" fill="#2355d8"/>
<path d="M321.0,263.8 L325.8,263.8 L323.4,268.4 Z" fill="#2355d8"/>
<path d="M321.7,265.0 L326.3,265.0 L324.0,270.2 Z" fill="#2355d8"/>
<path d="M322.0,269.1 L327.2,269.1 L324.6,274.8 Z" fill="#2355d8"/>
<path d="M322.9,269.7 L327.5,269.7 L325.2,275.0 Z" fill="#2355d8"/>
<path d="M323.6,271.4 L328.0,271.4 L325.8,276.6 Z" fill="#2355d8"/>
<path d="M324.3,268.8 L328.5,268.8 L326.4,273.7 Z" fill="#2355d8"/>
<path d="M324.4,267.3 L329.6,267.3 L327.0,272.4 Z" fill="#2355d8"/>
<path d="M325.0,262.0 L330.2,262.0 L327.6,267.3 Z" fill="#2355d8"/>
<path d="M325.5,265.2 L330.9,265.2 L328.2,270.8 Z" fill="#2355d8"/>
<path d="M326.7,263.7 L330.9,263.7 L328.8,268.5 Z" fill="#2355d8"/>
<path d="M327.0,265.3 L331.8,265.3 L329.4,270.0 Z" fill="#2355d8"/>
<path d="M327.6,263.8 L332.4,263.8 L330.0,269.1 Z" fill="#2355d8"/>
<path d="M327.9,264.8 L333.3,264.8 L330.6,270.1 Z" fill="#2355d8"/>
<path d="M328.9,264.0 L333.5,264.0 L331.2,269.5 Z" fill="#2355d8"/>
<path d="M329.3,266.6 L334.3,266.6 L331.8,271.1 Z" fill="#2355d8"/>
<path d="M329.8,267.0 L335.0,267.0 L332.4,272.2 Z" fill="#2355d8"/>
<path d="M330.9,269.1 L335.1,269.1 L333.0,274.2 Z" fill="#2355d8"/>
<path d="M331.4,268.7 L335.8,268.7 L333.6,274.0 Z" fill="#2355d8"/>
<path d="M331.5,267.8 L336.9,267.8 L334.2,273.0 Z" fill="#2355d8"/>
<path d="M332.7,268.3 L336.9,268.3 L334.8,272.9 Z" fill="#2355d8"/>
<path d="M333.3,271.4 L337.5,271.4 L335.4,276.0 Z" fill="#2355d8"/>
<path d="M333.6,268.6 L338.4,268.6 L336.0,274.2 Z" fill="#2355d8"/>
<path d="M334.0,269.9 L339.2,269.9 L336.6,274.4 Z" fill="#2355d8"/>
<path d="M334.7,264.3 L339.7,264.3 L337.2,269.2 Z" fill="#2355d8"/>
<path d="M335.6,266.0 L340.0,266.0 L337.8,270.7 Z" fill="#2355d8"/>
<path d="M336.3,262.0 L340.5,262.0 L338.4,267.6 Z" fill="#2355d8"/>
<path d="M336.8,263.0 L341.2,263.0 L339.0,268.0 Z" fill="#2355d8"/>
<path d="M337.6,261.4 L341.6,261.4 L339.6,267.1 Z" fill="#2355d8"/>
<path d="M337.5,261.5 L342.9,261.5 L340.2,266.6 Z" fill="#2355d8"/>
<path d="M338.6,260.4 L343.0,260.4 L340.8,264.9 Z" fill="#2355d8"/>
<path d="M338.8,261.5 L344.0,261.5 L341.4,266.4 Z" fill="#2355d8"/>
<path d="M339.4,263.2 L344.6,263.2 L342.0,268.1 Z" fill="#2355d8"/>
<path d="M339.9,262.0 L345.3,262.0 L342.6,267.1 Z" fill="#2355d8"/>
<path d="M341.0,263.6 L345.4,263.6 L343.2,268.6 Z" fill="#2355d8"/>
<path d="M341.6,262.6 L346.0,262.6 L343.8,267.5 Z" fill="#2355d8"/>
<path d="M342.1,263.3 L346.7,263.3 L344.4,268.8 Z" fill="#2355d8"/>
<path d="M342.9,260.3 L347.1,260.3 L345.0,265.2 Z" fill="#2355d8"/>
<path d="M342.9,257.3 L348.3,257.3 L345.6,262.2 Z" fill="#2355d8"/>
<path d="M344.1,254.3 L348.3,254.3 L346.2,259.5 Z" fill="#2355d8"/>
<path d="M344.5,252.4 L349.1,252.4 L346.8,257.0 Z" fill="#2355d8"/>
<path d="M344.8,249.7 L350.0,249.7 L347.4,254.7 Z" fill="#2355d8"/>
<path d="M345.9,249.6 L350.1,249.6 L348.0,254.5 Z" fill="#2355d8"/>
<path d="M346.6,249.5 L350.6,249.5 L348.6,254.9 Z" fill="#2355d8"/>
<path d="M410.9,228.1 L415.1,228.1 L413.0,233.5 Z" fill="#2355d8"/>
<path d="M411.4,239.1 L415.8,239.1 L413.6,244.7 Z" fill="#2355d8"/>
<path d="M411.9,244.2 L416.5,244.2 L414.2,249.7 Z" fill="#2355d8"/>
<path d="M412.7,249.0 L416.9,249.0 L414.8,254.0 Z" fill="#2355d8"/>
<path d="M413.1,250.0 L417.7,250.0 L415.4,255.7 Z" fill="#2355d8"/>
<path d="M413.3,247.4 L418.7,247.4 L416.0,252.5 Z" fill="#2355d8"/>
<path d="M414.3,245.0 L418.9,245.0 L416.6,249.7 Z" fill="#2355d8"/>
<path d="M569.8,176.6 L574.2,176.6 L572.0,182.2 Z" fill="#2355d8"/>
<path d="M570.3,179.8 L574.9,179.8 L572.6,184.6 Z" fill="#2355d8"/>
<path d="M571.1,182.3 L575.3,182.3 L573.2,187.9 Z" fill="#2355d8"/>
<path d="M571.4,181.8 L576.2,181.8 L573.8,186.9 Z" fill="#2355d8"/>
<path d="M571.9,184.0 L576.9,184.0 L574.4,189.0 Z" fill="#2355d8"/>
<path d="M572.6,186.0 L577.4,186.0 L575.0,190.9 Z" fill="#2355d8"/>
<path d="M573.5,185.4 L577.7,185.4 L575.6,190.1 Z" fill="#2355d8"/>
<path d="M574.0,186.3 L578.4,186.3 L576.2,191.6 Z" fill="#2355d8"/>
<path d="M574.4,180.8 L579.2,180.8 L576.8,185.7 Z" fill="#2355d8"/>
<path d="M575.2,181.3 L579.6,181.3 L577.4,185.9 Z" fill="#2355d8"/>
<path d="M575.8,178.5 L580.2,178.5 L578.0,183.1 Z" fill="#2355d8"/>
<path d="M576.4,179.3 L580.8,179.3 L578.6,184.3 Z" fill="#2355d8"/>
<path d="M576.7,179.0 L581.7,179.0 L579.2,184.6 Z" fill="#2355d8"/>
<path d="M577.7,177.0 L581.9,177.0 L579.8,181.9 Z" fill="#2355d8"/>
<path d="M577.9,172.8 L582.9,172.8 L580.4,178.1 Z" fill="#2355d8"/>
<path d="M578.7,174.2 L583.3,174.2 L581.0,179.5 Z" fill="#2355d8"/>
<path d="M579.4,174.7 L583.8,174.7 L581.6,180.3 Z" fill="#2355d8"/>
<path d="M579.8,171.1 L584.6,171.1 L582.2,175.8 Z" fill="#2355d8"/>
<path d="M580.2,170.3 L585.4,170.3 L582.8,175.8 Z" fill="#2355d8"/>
<path d="M581.4,174.1 L585.4,174.1 L583.4,178.6 Z" fill="#2355d8"/>
<path d="M581.9,172.2 L586.1,172.2 L584.0,177.0 Z" fill="#2355d8"/>
<path d="M582.6,174.9 L586.6,174.9 L584.6,179.8 Z" fill="#2355d8"/>
<path d="M583.1,176.1 L587.3,176.1 L585.2,181.7 Z" fill="#2355d8"/>
<path d="M583.3,179.3 L588.3,179.3 L585.8,184.1 Z" fill="#2355d8"/>
<path d="M583.9,178.3 L588.9,178.3 L586.4,183.2 Z" fill="#2355d8"/>
<path d="M584.4,176.4 L589.6,176.4 L587.0,181.9 Z" fill="#2355d8"/>
<path d="M585.6,179.5 L589.6,179.5 L587.6,185.1 Z" fill="#2355d8"/>
<path d="M586.2,181.9 L590.2,181.9 L588.2,186.7 Z" fill="#2355d8"/>
<path d="M586.2,178.3 L591.4,178.3 L588.8,183.0 Z" fill="#2355d8"/>
<path d="M586.9,182.3 L591.9,182.3 L589.4,186.9 Z" fill="#2355d8"/>
<path d="M587.7,182.0 L592.3,182.0 L590.0,187.4 Z" fill="#2355d8"/>
<path d="M588.4,183.8 L592.8,183.8 L590.6,188.4 Z" fill="#2355d8"/>
<path d="M588.9,186.0 L593.5,186.0 L591.2,191.6 Z" fill="#2355d8"/>
<path d="M589.3,186.1 L594.3,186.1 L591.8,191.7 Z" fill="#2355d8"/>
<path d="M590.1,185.6 L594.7,185.6 L592.4,190.1 Z" fill="#2355d8"/>
<path d="M590.7,186.6 L595.3,186.6 L593.0,191.8 Z" fill="#2355d8"/>
<path d="M591.5,187.2 L595.7,187.2 L593.6,192.7 Z" fill="#2355d8"/>
<path d="M591.7,180.9 L596.7,180.9 L594.2,186.4 Z" fill="#2355d8"/>
<path d="M592.4,180.7 L597.2,180.7 L594.8,186.5 Z" fill="#2355d8"/>
<path d="M593.0,182.8 L597.8,182.8 L595.4,187.6 Z" fill="#2355d8"/>
<path d="M593.7,179.6 L598.3,179.6 L596.0,184.6 Z" fill="#2355d8"/>
<path d="M594.4,180.3 L598.8,180.3 L596.6,184.9 Z" fill="#2355d8"/>
<path d="M594.7,184.6 L599.7,184.6 L597.2,189.4 Z" fill="#2355d8"/>
<path d="M595.4,181.4 L600.2,181.4 L597.8,186.4 Z" fill="#2355d8"/>
<path d="M596.2,184.9 L600.6,184.9 L598.4,189.7 Z" fill="#2355d8"/>
<path d="M596.9,185.8 L601.1,185.8 L599.0,191.0 Z" fill="#2355d8"/>
<path d="M597.0,184.4 L602.2,184.4 L599.6,189.6 Z" fill="#2355d8"/>
<path d="M598.1,187.9 L602.3,187.9 L600.2,193.3 Z" fill="#2355d8"/>
<path d="M598.5,188.9 L603.1,188.9 L600.8,194.3 Z" fill="#2355d8"/>
<path d="M599.3,193.5 L603.5,193.5 L601.4,198.3 Z" fill="#2355d8"/>
<path d="M599.9,191.6 L604.1,191.6 L602.0,196.1 Z" fill="#2355d8"/>
<path d="M600.5,191.4 L604.7,191.4 L602.6,196.7 Z" fill="#2355d8"/>
<path d="M601.1,192.5 L605.3,192.5 L603.2,197.4 Z" fill="#2355d8"/>
<path d="M601.5,192.2 L606.1,192.2 L603.8,196.8 Z" fill="#2355d8"/>
<path d="M602.4,188.5 L606.4,188.5 L604.4,194.3 Z" fill="#2355d8"/>
<path d="M602.9,192.4 L607.1,192.4 L605.0,197.8 Z" fill="#2355d8"/>
<path d="M603.2,193.2 L608.0,193.2 L605.6,197.8 Z" fill="#2355d8"/>
<path d="M603.9,189.8 L608.5,189.8 L606.2,194.5 Z" fill="#2355d8"/>
<path d="M604.8,190.1 L608.8,190.1 L606.8,195.8 Z" fill="#2355d8"/>
<path d="M605.0,192.6 L609.8,192.6 L607.4,198.2 Z" fill="#2355d8"/>
<path d="M605.8,194.0 L610.2,194.0 L608.0,198.8 Z" fill="#2355d8"/>
<path d="M606.6,191.0 L610.6,191.0 L608.6,196.4 Z" fill="#2355d8"/>
<path d="M607.0,193.6 L611.4,193.6 L609.2,198.3 Z" fill="#2355d8"/>
<path d="M607.2,194.2 L612.4,194.2 L609.8,199.9 Z" fill="#2355d8"/>
<path d="M607.9,191.0 L612.9,191.0 L610.4,196.5 Z" fill="#2355d8"/>
<path d="M608.8,192.3 L613.2,192.3 L611.0,197.1 Z" fill="#2355d8"/>
<path d="M609.4,189.6 L613.8,189.6 L611.6,194.5 Z" fill="#2355d8"/>
<path d="M609.9,182.6 L614.5,182.6 L612.2,188.1 Z" fill="#2355d8"/>
<path d="M610.8,180.8 L614.8,180.8 L612.8,186.0 Z" fill="#2355d8"/>
<path d="M610.8,179.2 L616.0,179.2 L613.4,184.6 Z" fill="#2355d8"/>
<path d="M611.3,179.0 L616.7,179.0 L614.0,184.1 Z" fill="#2355d8"/>
<path d="M612.5,176.6 L616.7,176.6 L614.6,181.5 Z" fill="#2355d8"/>
<path d="M613.1,176.5 L617.3,176.5 L615.2,181.8 Z" fill="#2355d8"/>
<path d="M613.5,174.3 L618.1,174.3 L615.8,180.0 Z" fill="#2355d8"/>
<path d="M614.4,174.7 L618.4,174.7 L616.4,179.8 Z" fill="#2355d8"/>
<path d="M614.5,175.6 L619.5,175.6 L617.0,180.1 Z" fill="#2355d8"/>
<path d="M615.0,178.0 L620.2,178.0 L617.6,183.5 Z" fill="#2355d8"/>
<path d="M616.0,176.3 L620.4,176.3 L618.2,181.6 Z" fill="#2355d8"/>
<path d="M616.5,177.5 L621.1,177.5 L618.8,182.4 Z" fill="#2355d8"/>
<path d="M616.9,175.3 L621.9,175.3 L619.4,180.9 Z" fill="#2355d8"/>
<path d="M617.9,176.1 L622.1,176.1 L620.0,181.0 Z" fill="#2355d8"/>
<path d="M618.2,173.7 L623.0,173.7 L620.6,178.6 Z" fill="#2355d8"/>
<path d="M619.1,173.5 L623.3,173.5 L621.2,178.4 Z" fill="#2355d8"/>
<path d="M619.1,176.4 L624.5,176.4 L621.8,182.0 Z" fill="#2355d8"/>
<path d="M619.7,180.5 L625.1,180.5 L622.4,186.2 Z" fill="#2355d8"/>
<path d="M620.4,183.3 L625.6,183.3 L623.0,187.8 Z" fill="#2355d8"/>
<path d="M621.2,182.9 L626.0,182.9 L623.6,187.8 Z" fill="#2355d8"/>
<path d="M621.5,177.8 L626.9,177.8 L624.2,182.9 Z" fill="#2355d8"/>
<path d="M622.6,174.5 L627.0,174.5 L624.8,179.4 Z" fill="#2355d8"/>
<path d="M623.4,172.8 L627.4,172.8 L625.4,177.6 Z" fill="#2355d8"/>
<path d="M714.0,131.0 L719.2,131.0 L716.6,138.0 Z" fill="#2355d8"/>
<path d="M714.4,132.0 L718.4,131.7 L716.2,137.0 Z" fill="#2355d8"/>
<path d="M720.0,133.0 L725.2,133.0 L722.6,140.0 Z" fill="#2355d8"/>
<path d="M720.4,134.0 L724.4,133.7 L722.2,139.0 Z" fill="#2355d8"/>
<path d="M725.8,134.5 L731.0,134.5 L728.4,141.5 Z" fill="#2355d8"/>
<path d="M726.2,135.5 L730.2,135.2 L728.0,140.5 Z" fill="#2355d8"/>
<path d="M762.0,114.0 L767.2,114.0 L764.6,121.0 Z" fill="#2355d8"/>
<path d="M762.4,115.0 L766.4,114.7 L764.2,120.0 Z" fill="#2355d8"/>
<path d="M766.9,117.0 L772.1,117.0 L769.5,124.0 Z" fill="#2355d8"/>
<path d="M767.3,118.0 L771.3,117.7 L769.1,123.0 Z" fill="#2355d8"/>
<rect x="92" y="125.2" width="270.4" height="9.6" fill="#fff" fill-opacity="0.55"/>
<text x="92.8" y="133.5" font-family='"Liberation Sans", sans-serif' font-size="8.9" fill="#7b7b7b" textLength="268.4" lengthAdjust="spacingAndGlyphs">90–100% — Overheated / distribution zone (high risk of profit-taking)</text>
<rect x="92" y="193.4" width="291.8" height="9.6" fill="#fff" fill-opacity="0.55"/>
<text x="92.8" y="201.7" font-family='"Liberation Sans", sans-serif' font-size="8.9" fill="#7b7b7b" textLength="289.8" lengthAdjust="spacingAndGlyphs">70–90% — Elevated risk, watch for divergences and momentum slowdown</text>
<rect x="92" y="329.8" width="230.9" height="9.6" fill="#fff" fill-opacity="0.55"/>
<text x="92.8" y="338.1" font-family='"Liberation Sans", sans-serif' font-size="8.9" fill="#7b7b7b" textLength="228.9" lengthAdjust="spacingAndGlyphs">30–70% — Neutral “digestion” zone (balanced risk/reward)</text>
<rect x="92" y="398.0" width="205.8" height="9.6" fill="#fff" fill-opacity="0.55"/>
<text x="92.8" y="406.3" font-family='"Liberation Sans", sans-serif' font-size="8.9" fill="#7b7b7b" textLength="203.8" lengthAdjust="spacingAndGlyphs">10–30% — Early/mid accumulation after a drawdown</text>
<rect x="92" y="432.1" width="194.7" height="9.6" fill="#fff" fill-opacity="0.55"/>
<text x="92.8" y="440.4" font-family='"Liberation Sans", sans-serif' font-size="8.9" fill="#7b7b7b" textLength="192.7" lengthAdjust="spacingAndGlyphs">0–10% — Deep undervaluation / capitulation zone</text>
<line x1="88" y1="309.4" x2="797" y2="309.4" stroke="#2a45d0" stroke-width="1.4" stroke-dasharray="4.5,3.5"/>
<text x="592.5" y="305" font-family='"Liberation Sans", sans-serif' font-size="18.5" font-weight="bold" fill="#111">39%</text>
<circle cx="797.9" cy="308.8" r="9.3" fill="#e6e0f5" stroke="#3a4fd8" stroke-width="1.1" stroke-dasharray="2.5,2"/>
<line x1="83.5" y1="84" x2="83.5" y2="442" stroke="#d0d0d0" stroke-width="1"/>
<line x1="801.1" y1="84" x2="801.1" y2="442" stroke="#e9a877" stroke-width="1.2"/>
<text x="76.5" y="112.3" text-anchor="end" font-family='"Liberation Sans", sans-serif' font-size="11" fill="#222">100K</text>
<text x="76.5" y="156.5" text-anchor="end" font-family='"Liberation Sans", sans-serif' font-size="11" fill="#222">40K</text>
<text x="76.5" y="190.0" text-anchor="end" font-family='"Liberation Sans", sans-serif' font-size="11" fill="#222">20K</text>
<text x="76.5" y="223.4" text-anchor="end" font-family='"Liberation Sans", sans-serif' font-size="11" fill="#222">10K</text>
<text x="76.5" y="267.6" text-anchor="end" font-family='"Liberation Sans", sans-serif' font-size="11" fill="#222">4K</text>
<text x="76.5" y="301.1" text-anchor="end" font-family='"Liberation Sans", sans-serif' font-size="11" fill="#222">2K</text>
<text x="76.5" y="334.5" text-anchor="end" font-family='"Liberation Sans", sans-serif' font-size="11" fill="#222">1K</text>
<text x="76.5" y="378.7" text-anchor="end" font-family='"Liberation Sans", sans-serif' font-size="11" fill="#222">400</text>
<text x="76.5" y="412.2" text-anchor="end" font-family='"Liberation Sans", sans-serif' font-size="11" fill="#222">200</text>
<text x="76.5" y="445.6" text-anchor="end" font-family='"Liberation Sans", sans-serif' font-size="11" fill="#222">100</text>
<text x="809.5" y="104.6" font-family='"Liberation Sans", sans-serif' font-size="11" fill="#222">100%</text>
<text x="809.5" y="189.8" font-family='"Liberation Sans", sans-serif' font-size="11" fill="#222">75%</text>
<text x="809.5" y="275.1" font-family='"Liberation Sans", sans-serif' font-size="11" fill="#222">50%</text>
<text x="809.5" y="360.3" font-family='"Liberation Sans", sans-serif' font-size="11" fill="#222">25%</text>
<text x="809.5" y="445.6" font-family='"Liberation Sans", sans-serif' font-size="11" fill="#222">0%</text>
<text x="120.3" y="458.8" text-anchor="middle" font-family='"Liberation Sans", sans-serif' font-size="9.5" fill="#666">2016</text>
<text x="190.4" y="458.8" text-anchor="middle" font-family='"Liberation Sans", sans-serif' font-size="9.5" fill="#666">2017</text>
<text x="260.5" y="458.8" text-anchor="middle" font-family='"Liberation Sans", sans-serif' font-size="9.5" fill="#666">2018</text>
<text x="330.5" y="458.8" text-anchor="middle" font-family='"Liberation Sans", sans-serif' font-size="9.5" fill="#666">2019</text>
<text x="400.6" y="458.8" text-anchor="middle" font-family='"Liberation Sans", sans-serif' font-size="9.5" fill="#666">2020</text>
<text x="470.7" y="458.8" text-anchor="middle" font-family='"Liberation Sans", sans-serif' font-size="9.5" fill="#666">2021</text>
<text x="540.8" y="458.8" text-anchor="middle" font-family='"Liberation Sans", sans-serif' font-size="9.5" fill="#666">2022</text>
<text x="610.9" y="458.8" text-anchor="middle" font-family='"Liberation Sans", sans-serif' font-size="9.5" fill="#666">2023</text>
<text x="680.9" y="458.8" text-anchor="middle" font-family='"Liberation Sans", sans-serif' font-size="9.5" fill="#666">2024</text>
<text x="751.0" y="458.8" text-anchor="middle" font-family='"Liberation Sans", sans-serif' font-size="9.5" fill="#666">2025</text>
<text transform="translate(44,262) rotate(-90)" text-anchor="middle" font-family='"Liberation Sans", sans-serif' font-size="10.5" fill="#222">Price ($)</text>
<text transform="translate(844.5,263.4) rotate(90)" text-anchor="middle" font-family='"Liberation Sans", sans-serif' font-size="10.5" fill="#222">MVRV %ile (Cycle)</text>
<text x="442" y="32.7" text-anchor="middle" font-family='"Liberation Sans", sans-serif' font-size="17" font-weight="bold" fill="#111">Bitcoin: MVRV Percentile - Current Cycle (0-100%)</text>
<line x1="105.5" y1="51.2" x2="117.6" y2="51.2" stroke="#111" stroke-width="1.2"/>
<text x="121.2" y="54.6" font-family='"Liberation Sans", sans-serif' font-size="10.5" fill="#111">BTC Price (USD)</text>
<line x1="209.4" y1="51.2" x2="221.2" y2="51.2" stroke="#999" stroke-width="1.2"/>
<text x="225" y="54.6" font-family='"Liberation Sans", sans-serif' font-size="10.5" fill="#8a8a8a" text-decoration="line-through">MVRV (7-day)</text>
<line x1="306" y1="51.2" x2="316.5" y2="51.2" stroke="#999" stroke-width="1.2"/>
<text x="319.8" y="54.6" font-family='"Liberation Sans", sans-serif' font-size="10.5" fill="#8a8a8a" text-decoration="line-through">Log-MVRV (7-day)</text>
<line x1="421.2" y1="51.2" x2="433" y2="51.2" stroke="#999" stroke-width="1.2"/>
<text x="437" y="54.6" font-family='"Liberation Sans", sans-serif' font-size="10.5" fill="#8a8a8a" text-decoration="line-through">MVRV Z-Score (365-day lookback)</text>
<line x1="613" y1="51.2" x2="625" y2="51.2" stroke="#999" stroke-width="1.2"/>
<text x="628" y="54.6" font-family='"Liberation Sans", sans-serif' font-size="10.5" fill="#8a8a8a" text-decoration="line-through">MVRV Z-Score (4-year lookback)</text>
<line x1="105.5" y1="65.6" x2="117.6" y2="65.6" stroke="#eda77a" stroke-width="1.2"/>
<text x="121.2" y="69" font-family='"Liberation Sans", sans-serif' font-size="10.5" fill="#111">MVRV Percentile - Current Cycle (0–100%)</text>
<path d="M339,62.5 L341.5,67 L336.5,67 Z" fill="#d4307e"/>
<text x="348.2" y="69" font-family='"Liberation Sans", sans-serif' font-size="10.5" fill="#111">High Signal</text>
<path d="M416.5,63 L421.5,63 L419,67.5 Z" fill="#2355d8"/>
<text x="428.1" y="69" font-family='"Liberation Sans", sans-serif' font-size="10.5" fill="#111">Low Signal</text>
<circle cx="325.5" cy="470" r="6.8" fill="#f0b45a"/>
<text x="334" y="472" font-family='"Liberation Sans", sans-serif' font-size="10" fill="#aaa" textLength="212" lengthAdjust="spacingAndGlyphs">Current MVRV percentile value (latest reading)</text>
</svg>
</body></html>
